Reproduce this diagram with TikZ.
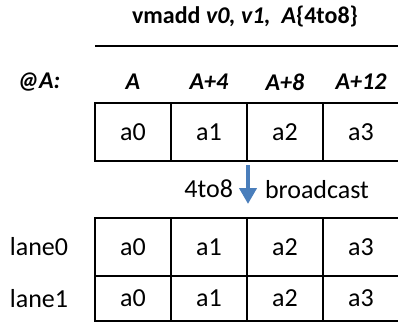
\documentclass[tikz,border=0pt]{standalone}
\usepackage{fontspec}
\setmainfont{Carlito}
\usetikzlibrary{arrows.meta}
\definecolor{bcblue}{RGB}{74,126,187}
\tikzset{
  cell/.style={draw, line width=2pt, minimum width=76pt, minimum height=58pt,
    inner sep=0pt, font=\fontsize{26}{30}\selectfont},
  short/.style={minimum height=45pt},
  lbl/.style={inner sep=0pt, text=black, font=\fontsize{26}{30}\selectfont},
  hdr/.style={inner sep=0pt, font=\fontsize{24}{28}\selectfont\bfseries\itshape},
  bcast/.style={bcblue, line width=4pt, -{Triangle[width=17pt,length=16pt]}},
}
\begin{document}
\begin{tikzpicture}[x=1pt,y=-1pt]
\useasboundingbox (0,0) rectangle (398,326);
% instruction
\node[inner sep=0pt, font=\fontsize{24}{28}\selectfont\bfseries] (instr) at (245,17)
  {vmadd \textit{v0,} \textit{v1,}\ \ \textit{A}\{4to8\}};
\coordinate (rl) at (95,46);
\coordinate (rr) at (400,46);
\draw[line width=2pt] (rl) -- (rr);
% addresses
\node[hdr] (at) at (39,82) {@A:};
\node[hdr] (h0) at (133,82) {A};
\node[hdr] (h1) at (209,82) {A+4};
\node[hdr] (h2) at (285,82) {A+8};
\node[hdr] (h3) at (361,82) {A+12};
% memory
\node[cell] (s0) at (133,132) {a0};
\node[cell] (s1) at (209,132) {a1};
\node[cell] (s2) at (285,132) {a2};
\node[cell] (s3) at (361,132) {a3};
% vector lanes
\node[lbl] (lane0) at (39,247) {lane0};
\node[cell] (p0) at (133,247) {a0};
\node[cell] (p1) at (209,247) {a1};
\node[cell] (p2) at (285,247) {a2};
\node[cell] (p3) at (361,247) {a3};
\node[lbl] (lane1) at (39,298.5) {lane1};
\node[cell,short] (q0) at (133,298.5) {a0};
\node[cell,short] (q1) at (209,298.5) {a1};
\node[cell,short] (q2) at (285,298.5) {a2};
\node[cell,short] (q3) at (361,298.5) {a3};
% broadcast
\draw[bcast] ([yshift=-3pt]s1.south east) -- ([yshift=13pt]p1.north east)
  node[lbl, pos=.62, left=13pt] (from) {4to8}
  node[lbl, pos=.62, right=15pt] (to) {broadcast};
\end{tikzpicture}
\end{document}
